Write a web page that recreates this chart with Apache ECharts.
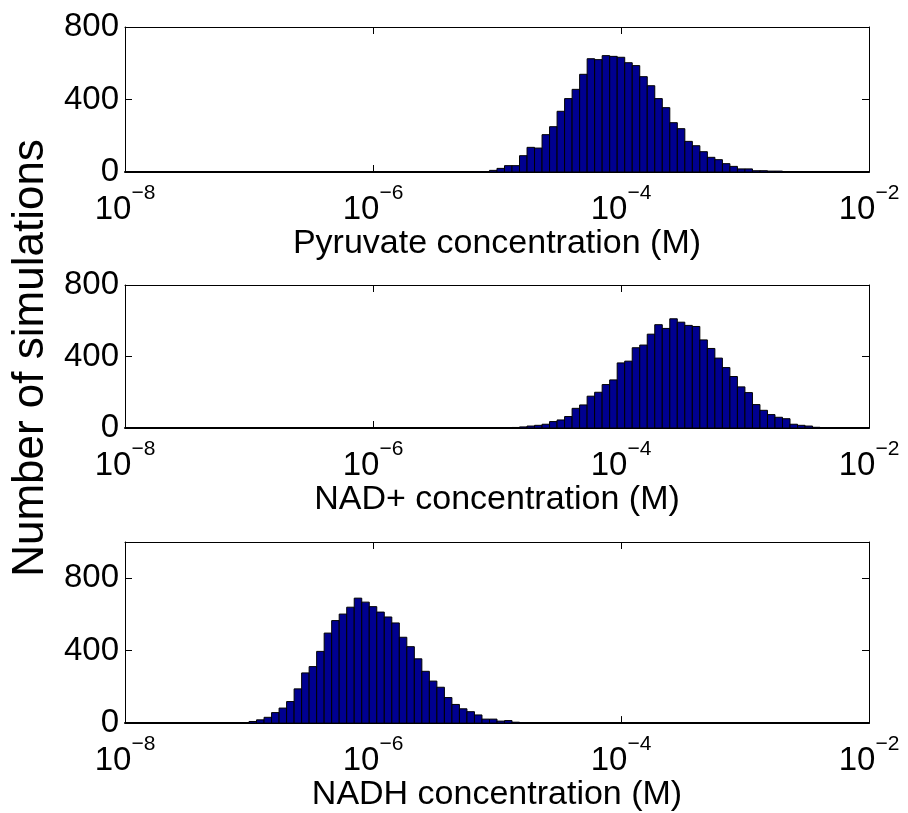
<!DOCTYPE html>
<html>
<head>
<meta charset="utf-8">
<script src="https://cdn.jsdelivr.net/npm/echarts@6/dist/echarts.min.js"></script>
<style>
  html, body { margin: 0; padding: 0; background: #fff; }
  #chart { width: 908px; height: 813px; }
</style>
</head>
<body>
<div id="chart"></div>
<script>
// bin width in log10(M) units, same for all three histograms
const binWidth = 0.0606;

// x axis tick exponents (10^n)
const xTicks = [-8, -6, -4, -2];
const yTicks = [0, 400, 800];

// pyruvate histogram: left edge of first bin (log10 M) and counts
const pyruvateStart = -5.182;
const pyruvateCounts = [1, 2, 9, 20, 35, 35, 90, 136, 132, 206, 250, 335, 405, 456, 539, 625, 620, 642,
  638, 633, 603, 587, 526, 476, 405, 355, 272, 239, 169, 145, 112, 81, 68, 46, 31, 17, 17, 7, 7, 5, 5];

// NAD+ histogram
const nadStart = -5.061;
const nadCounts = [1, 1, 2, 3, 6, 11, 15, 21, 36, 45, 64, 110, 129, 178, 200, 243, 269, 364, 374, 449,
  464, 525, 578, 557, 611, 592, 574, 568, 493, 445, 391, 338, 288, 230, 198, 131, 99, 75, 60, 52, 21, 15,
  11, 4, 2, 2];

// NADH histogram
const nadhStart = -7.121;
const nadhCounts = [1, 3, 9, 18, 32, 58, 83, 119, 189, 277, 312, 396, 497, 566, 602, 640, 690, 668, 643,
  613, 586, 553, 474, 422, 355, 286, 232, 198, 141, 103, 79, 63, 45, 22, 22, 11, 14, 5, 2];

const panels = [
  { name: "Pyruvate concentration (M)", start: pyruvateStart, counts: pyruvateCounts, yMax: 800, top: 27, height: 145 },
  { name: "NAD+ concentration (M)", start: nadStart, counts: nadCounts, yMax: 800, top: 285, height: 143 },
  { name: "NADH concentration (M)", start: nadhStart, counts: nadhCounts, yMax: 1000, top: 542, height: 185 },
];

const FONT = "'Liberation Sans', Arial, Helvetica, sans-serif";
const barColor = "#000090";

function renderBin(params, api) {
  const p0 = api.coord([api.value(0), api.value(2)]);
  const p1 = api.coord([api.value(1), 0]);
  return {
    type: "rect",
    shape: { x: p0[0], y: p0[1], width: p1[0] - p0[0], height: p1[1] - p0[1] },
    style: { fill: barColor, stroke: "#000", lineWidth: 1 },
  };
}

const chart = echarts.init(document.getElementById("chart"), null, { renderer: "canvas" });

const grids = [], xAxes = [], yAxes = [], series = [];

panels.forEach((p, i) => {
  grids.push({ left: 125, right: 39, top: p.top, height: p.height, containLabel: false });

  // bottom x axis with 10^n labels
  xAxes.push({
    gridIndex: i,
    type: "value",
    min: -8,
    max: -2,
    interval: 2,
    position: "bottom",
    name: p.name,
    nameLocation: "middle",
    nameGap: 54,
    nameTextStyle: { fontFamily: FONT, fontSize: 34, color: "#000" },
    axisLine: { onZero: false, lineStyle: { color: "#000", width: 2 } },
    axisTick: { inside: true, length: 7, customValues: xTicks, lineStyle: { color: "#000" } },
    splitLine: { show: false },
    axisLabel: {
      margin: 11,
      customValues: xTicks,
      formatter: (v) => "{b|10}{s|\u2212" + Math.abs(v) + "}",
      rich: {
        b: { fontFamily: FONT, fontSize: 33, color: "#000", lineHeight: 43, verticalAlign: "bottom" },
        s: { fontFamily: FONT, fontSize: 21, color: "#000", lineHeight: 21, verticalAlign: "top" },
      },
    },
  });
  // top x axis, box edge with ticks
  xAxes.push({
    gridIndex: i,
    type: "value",
    min: -8,
    max: -2,
    interval: 2,
    position: "top",
    axisLine: { onZero: false, lineStyle: { color: "#000", width: 1 } },
    axisTick: { inside: true, length: 7, customValues: xTicks, lineStyle: { color: "#000" } },
    axisLabel: { show: false },
    splitLine: { show: false },
  });

  yAxes.push({
    gridIndex: i,
    type: "value",
    min: 0,
    max: p.yMax,
    interval: 400,
    position: "left",
    axisLine: { show: true, onZero: false, lineStyle: { color: "#000", width: 1 } },
    axisTick: { show: true, inside: true, length: 7, customValues: yTicks, lineStyle: { color: "#000" } },
    axisLabel: {
      margin: 6,
      customValues: yTicks,
      fontFamily: FONT,
      fontSize: 33,
      color: "#000",
      formatter: (v) => (v > 800 ? "" : String(v)),
    },
    splitLine: { show: false },
  });
  yAxes.push({
    gridIndex: i,
    type: "value",
    min: 0,
    max: p.yMax,
    interval: 400,
    position: "right",
    axisLine: { show: true, onZero: false, lineStyle: { color: "#000", width: 1 } },
    axisTick: { show: true, inside: true, length: 7, customValues: yTicks, lineStyle: { color: "#000" } },
    axisLabel: { show: false },
    splitLine: { show: false },
  });

  const bins = p.counts.map((c, k) => {
    const left = p.start + k * binWidth;
    return [left, left + binWidth, c];
  });

  series.push({
    type: "custom",
    xAxisIndex: i * 2,
    yAxisIndex: i * 2,
    renderItem: renderBin,
    encode: { x: [0, 1], y: 2 },
    data: bins,
    clip: true,
    silent: true,
  });
});

chart.setOption({
  animation: false,
  backgroundColor: "#fff",
  grid: grids,
  xAxis: xAxes,
  yAxis: yAxes,
  series: series,
  graphic: [
    {
      type: "text",
      x: 31,
      y: 358,
      rotation: Math.PI / 2,
      style: {
        text: "Number of simulations",
        fontFamily: FONT,
        fontSize: 44,
        fill: "#000",
        align: "center",
        verticalAlign: "middle",
      },
    },
  ],
});
</script>
</body>
</html>
